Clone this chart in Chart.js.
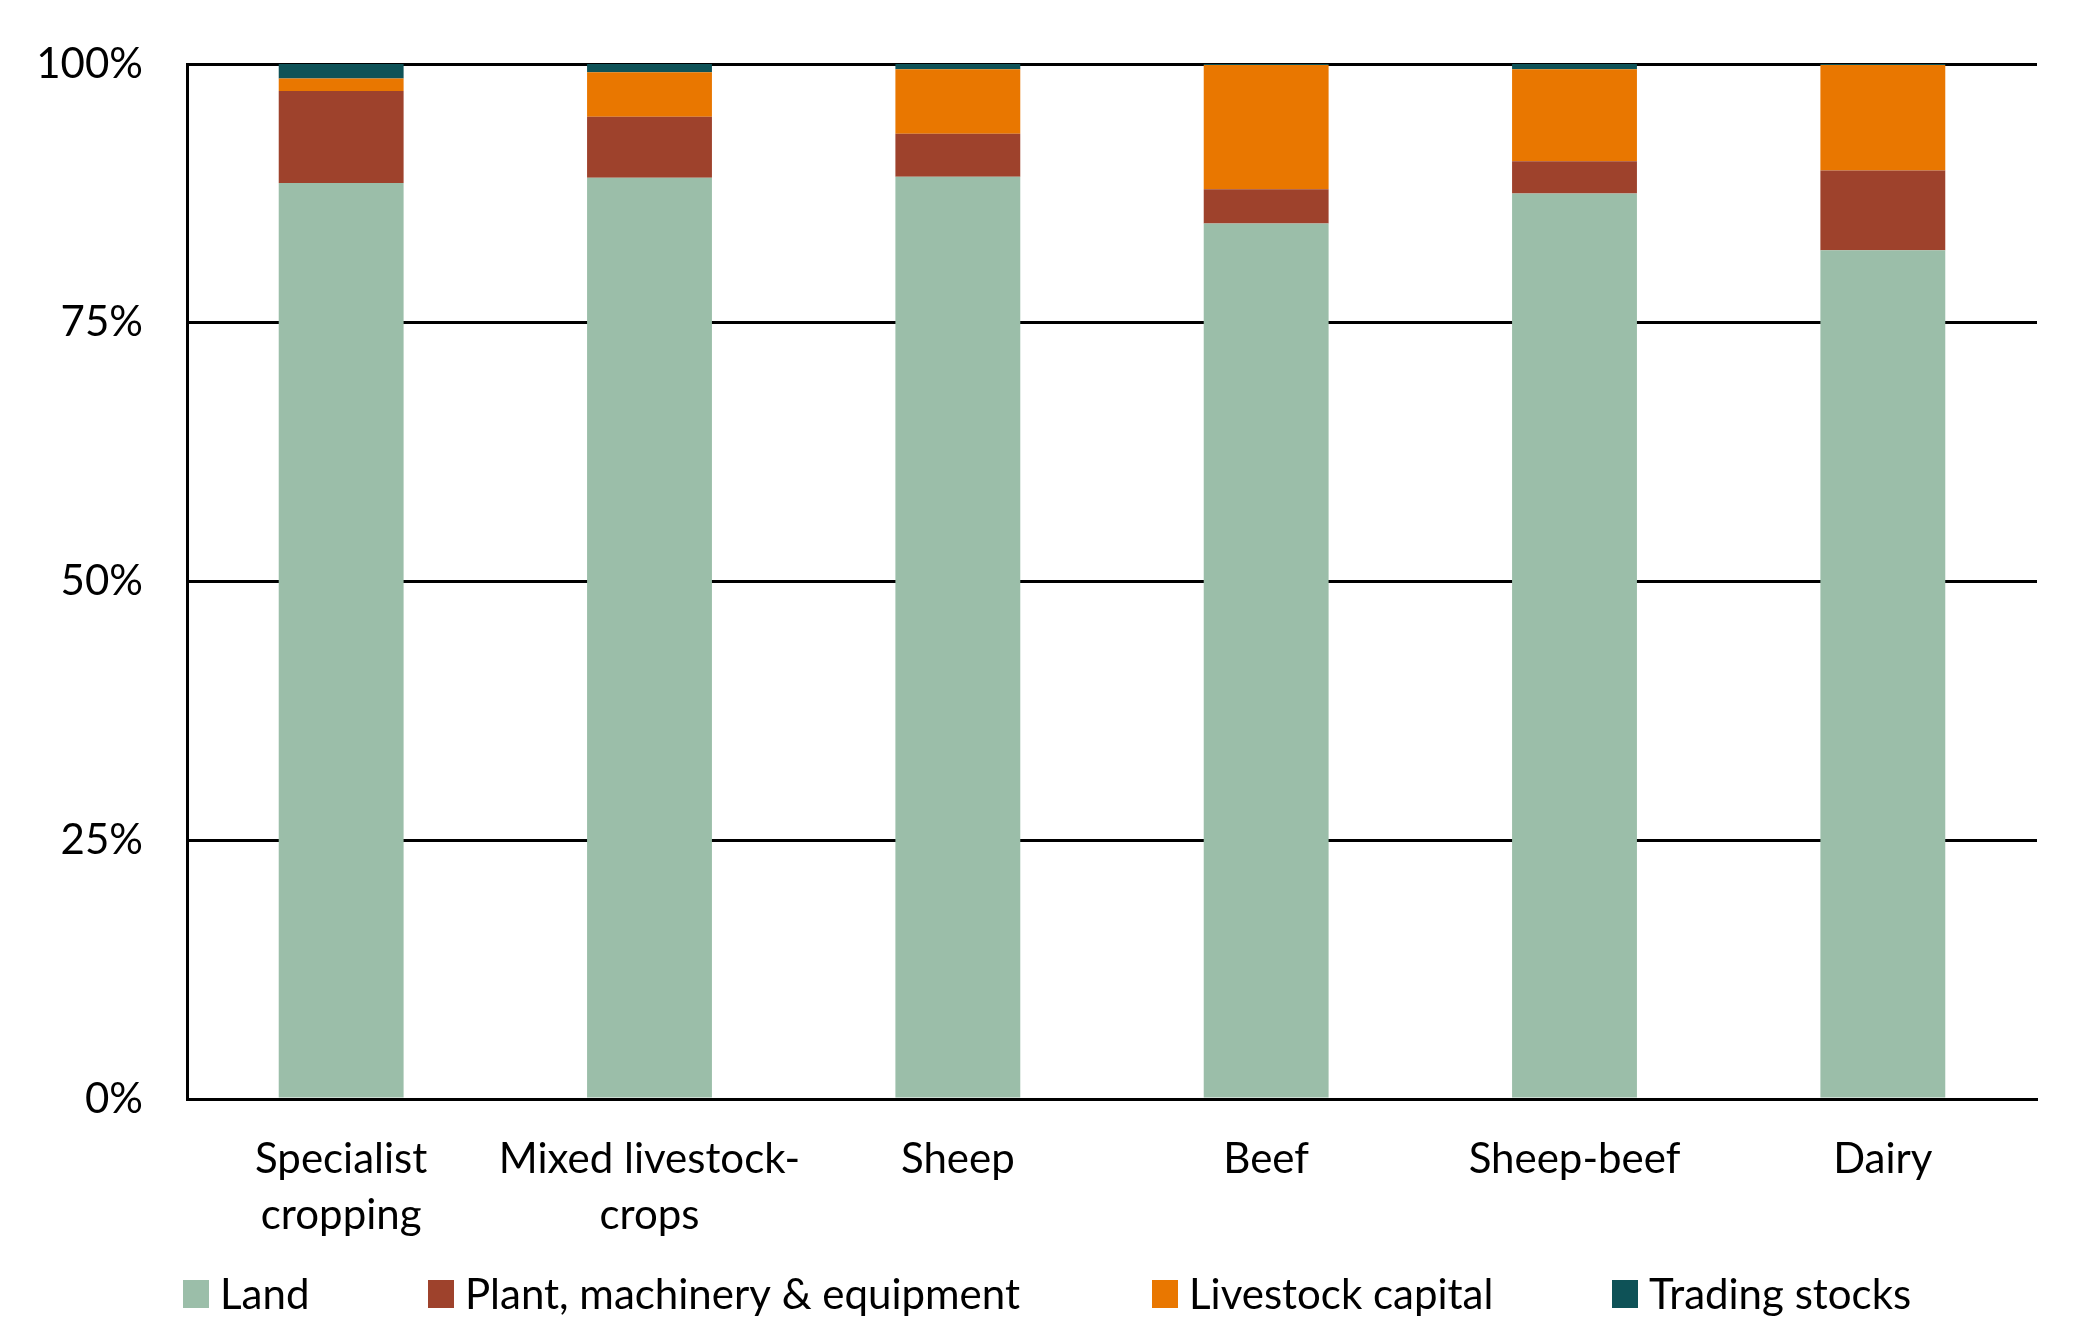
<!DOCTYPE html>
<html lang="en">
<head>
  <meta charset="UTF-8">
  <title>Farm capital composition by farm type</title>
  <script src="https://cdn.jsdelivr.net/npm/chart.js"></script>
  <style>
    html, body { margin: 0; padding: 0; background: #fff; }
    #wrap { width: 2079px; height: 1344px; }
  </style>
</head>
<body>
  <div id="wrap">
    <canvas id="capitalChart" width="2079" height="1344"></canvas>
  </div>

  <script>
    // categories and shares of total capital (%)
    const farmTypes = [['Specialist', 'cropping'], ['Mixed livestock-', 'crops'], 'Sheep', 'Beef', 'Sheep-beef', 'Dairy'];
    const land      = [88.5, 89.0, 89.1, 84.6, 87.5, 82.0];
    const plant     = [8.9, 5.9, 4.15, 3.3, 3.1, 7.7];
    const livestock = [1.2, 4.3, 6.25, 12.0, 8.9, 10.2];
    const trading   = [1.4, 0.8, 0.5, 0.1, 0.5, 0.1];
    const yTicks    = [0, 25, 50, 75, 100];

    const fontFamily = 'Lato, "Open Sans", sans-serif';
    const tickFont = { family: fontFamily, size: 42, lineHeight: 1.333 };
    const axisFont = { family: fontFamily, size: 42 };

    // legend row drawn by hand: Chart.js ties the item gap to the row height
    const legendRow = {
      id: 'legendRow',
      afterDraw(chart) {
        const c = chart.ctx;
        const boxX = [183, 428, 1152, 1612];
        const midY = 1294;
        c.save();
        c.font = '42px ' + fontFamily;
        c.textBaseline = 'middle';
        c.textAlign = 'left';
        chart.data.datasets.forEach((ds, i) => {
          c.fillStyle = ds.backgroundColor;
          c.fillRect(boxX[i], midY - 14, 26, 28);
          c.fillStyle = '#000';
          c.fillText(ds.label, boxX[i] + 37, midY + 1);
        });
        c.restore();
      }
    };

    const ctx = document.getElementById('capitalChart').getContext('2d');
    const capitalChart = new Chart(ctx, {
      type: 'bar',
      data: {
        labels: farmTypes,
        datasets: [
          { label: 'Land', data: land, backgroundColor: '#9bbea9' },
          { label: 'Plant, machinery & equipment', data: plant, backgroundColor: '#9e422c' },
          { label: 'Livestock capital', data: livestock, backgroundColor: '#e97700' },
          { label: 'Trading stocks', data: trading, backgroundColor: '#0e5257' }
        ]
      },
      options: {
        responsive: false,
        devicePixelRatio: 1,
        animation: false,
        barPercentage: 0.405,
        categoryPercentage: 1,
        layout: { autoPadding: false, padding: { top: 64, right: 42, bottom: 95, left: 0 } },
        plugins: {
          tooltip: { enabled: false },
          legend: { display: false }
        },
        scales: {
          x: {
            stacked: true,
            grid: { display: false, drawTicks: false },
            border: { display: true, color: '#000', width: 3 },
            ticks: { color: '#000', font: tickFont, padding: 32, maxRotation: 0 },
            afterFit: (scale) => { scale.height = 150; }
          },
          y: {
            stacked: true,
            min: 0,
            max: 100,
            afterBuildTicks: (scale) => { scale.ticks = yTicks.map(v => ({ value: v })); },
            grid: { color: '#000', lineWidth: 3, drawTicks: false },
            border: { display: true, color: '#000', width: 3 },
            ticks: { color: '#000', font: axisFont, padding: 44, callback: (v) => v + '%' },
            afterFit: (scale) => {
              scale.width = 187;
              scale.paddingTop = 0;
              scale.paddingBottom = 0;
            }
          }
        }
      },
      plugins: [legendRow]
    });
  </script>
</body>
</html>
